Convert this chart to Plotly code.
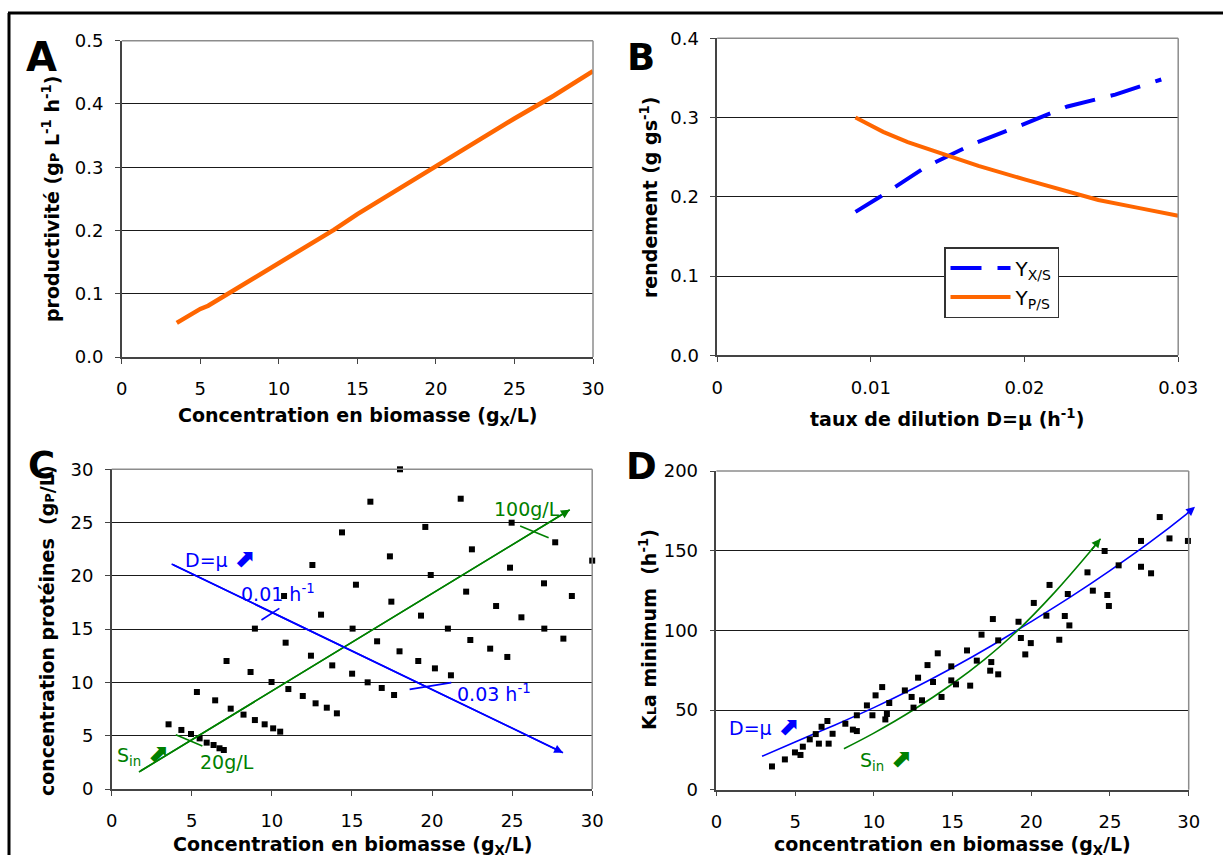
import plotly.graph_objects as go

W, H = 1223, 855

# ---------------- DATA ----------------
# Panel A : productivity vs biomass concentration
A_x = [3.5, 4.2, 5.0, 5.5, 6.1, 6.9, 8, 10, 12, 13.5, 15, 17.5, 20, 22.5, 25, 27.5, 30]
A_y = [0.054, 0.064, 0.076, 0.081, 0.090, 0.102, 0.118, 0.150, 0.180, 0.201, 0.226,
       0.264, 0.301, 0.339, 0.377, 0.413, 0.452]

# Panel B : yields vs dilution rate
B_yxs_x = [0.009, 0.0106, 0.0136, 0.0168, 0.020, 0.0228, 0.0259, 0.0289]
B_yxs_y = [0.181, 0.200, 0.238, 0.268, 0.292, 0.314, 0.329, 0.348]
B_yps_x = [0.009, 0.0108, 0.0124, 0.0149, 0.017, 0.020, 0.0223, 0.0248, 0.0274, 0.030]
B_yps_y = [0.300, 0.282, 0.269, 0.252, 0.239, 0.222, 0.209, 0.196, 0.186, 0.176]

# Panel C : protein concentration vs biomass (scatter)
C_x = [3.55, 4.35, 4.95, 5.49, 5.93, 6.36, 6.73, 7.0,
       5.32, 6.46, 7.43, 8.23, 8.94, 9.55, 10.08, 10.52,
       7.17, 8.67, 9.98, 11.03, 11.93, 12.73, 13.43, 14.06,
       8.94, 10.86, 12.44, 13.77, 15.01, 15.98, 16.86, 17.63,
       10.76, 13.07, 15.04, 16.57, 17.97, 19.14, 20.18, 21.18,
       12.53, 15.25, 17.46, 19.31, 20.99, 22.39, 23.63, 24.70,
       14.38, 17.37, 19.92, 22.13, 24.0, 25.58, 27.01, 28.2,
       16.15, 19.58, 22.49, 24.87, 26.99, 28.73,
       18.0, 21.79, 24.97, 27.69, 30.0]
C_y = [6.07, 5.54, 5.16, 4.75, 4.35, 4.13, 3.82, 3.66,
       9.10, 8.32, 7.54, 6.98, 6.47, 6.07, 5.69, 5.38,
       12.01, 10.98, 10.04, 9.38, 8.73, 8.04, 7.63, 7.10,
       15.05, 13.73, 12.51, 11.60, 10.82, 10.01, 9.48, 8.82,
       18.11, 16.36, 15.05, 13.86, 12.92, 12.01, 11.32, 10.67,
       21.02, 19.17, 17.58, 16.27, 15.05, 13.98, 13.17, 12.39,
       24.08, 21.83, 20.08, 18.52, 17.17, 16.11, 15.05, 14.11,
       26.96, 24.59, 22.49, 20.77, 19.30, 18.11,
       30.0, 27.24, 24.99, 23.15, 21.43]
C_sin_x = [1.7, 28.6]
C_sin_y = [1.6, 26.2]
C_D_x = [3.74, 28.18]
C_D_y = [21.11, 3.41]
C_tick20_x = [4.0, 5.66]
C_tick20_y = [5.10, 4.03]
C_tick100_x = [25.5, 27.28]
C_tick100_y = [24.68, 23.58]
C_tick001_x = [9.35, 10.47]
C_tick001_y = [15.86, 16.95]
C_tick003_x = [18.6, 21.2]
C_tick003_y = [9.35, 9.98]

# Panel D : KLa minimum vs biomass (scatter)
D_x = [3.53, 4.35, 4.99, 5.34, 5.49, 5.93, 6.31, 6.51, 6.68, 7.05, 7.13, 7.38,
       8.19, 8.67, 8.92, 8.92, 9.56, 9.91, 10.11, 10.53, 10.73, 10.83, 10.98,
       11.97, 12.40, 12.52, 12.81, 13.06, 13.41, 13.76, 14.06, 14.30, 14.92,
       14.92, 15.22, 15.92, 16.12, 16.54, 16.84, 17.39, 17.46, 17.56, 17.90,
       17.90, 19.19, 19.34, 19.62, 19.97, 20.16, 20.96, 21.16, 21.78, 22.13,
       22.32, 22.42, 23.57, 23.91, 24.66, 24.83, 24.93, 25.55, 26.97, 26.97,
       27.61, 28.16, 28.78, 29.95]
D_y = [14.6, 19.0, 23.4, 21.8, 27.0, 31.6, 34.9, 28.9, 39.5, 43.1, 28.9, 35.1,
       41.4, 37.7, 46.7, 36.8, 52.9, 46.7, 59.2, 64.4, 44.1, 47.5, 54.4,
       62.3, 58.2, 51.5, 70.3, 56.1, 78.2, 67.6, 85.6, 58.2, 77.4,
       68.6, 66.1, 87.4, 65.3, 81.0, 97.3, 74.7, 80.1, 107.1, 93.7,
       72.4, 105.4, 95.2, 84.9, 92.0, 117.2, 109.2, 128.5, 94.1, 109.0,
       122.8, 103.1, 136.4, 124.9, 149.8, 122.2, 115.3, 140.8, 156.1, 139.9,
       135.8, 171.1, 157.7, 156.1]
D_mu_x = [2.9, 5, 7.5, 10, 12.5, 15, 17.5, 20, 22.5, 25, 27.5, 29.8, 30.4]
D_mu_y = [21, 30, 40.5, 51.5, 63.5, 76.5, 90.5, 105.5, 121, 137.5, 155, 172.5, 177.5]
D_sin_x = [8.1, 10, 12.5, 15, 17, 19.1, 21.5, 23.7, 24.4]
D_sin_y = [25.7, 35.5, 50, 66.5, 81.5, 99.6, 124, 149, 157.5]

# ---------------- STYLE ----------------
FONT = "DejaVu Sans, Liberation Sans, Arial"
ORANGE = "#FF6600"
BLUE = "#0000FF"
GREEN = "#008000"


def px(x):
    return x / W


def py(y):
    return 1 - y / H


# axis domains (pixel boxes)
dom = {
    "A": ((121.8, 593.0), (40.7, 357.0)),
    "B": ((717.2, 1178.2), (38.3, 355.3)),
    "C": ((111.7, 592.2), (469.3, 789.0)),
    "D": ((716.4, 1188.7), (471.0, 789.7)),
}

fig = go.Figure()

# Panel A
fig.add_trace(go.Scatter(x=A_x, y=A_y, mode="lines", line=dict(color=ORANGE, width=4.5),
                         xaxis="x", yaxis="y", showlegend=False))
# Panel B
fig.add_trace(go.Scatter(x=B_yxs_x, y=B_yxs_y, mode="lines", name="Y<sub>X/S</sub>",
                         line=dict(color=BLUE, width=4, dash="31px,16px"),
                         xaxis="x2", yaxis="y2", showlegend=True))
fig.add_trace(go.Scatter(x=B_yps_x, y=B_yps_y, mode="lines", name="Y<sub>P/S</sub>",
                         line=dict(color=ORANGE, width=4),
                         xaxis="x2", yaxis="y2", showlegend=True))
# Panel C
for xs, ys, col in [(C_sin_x, C_sin_y, GREEN), (C_D_x, C_D_y, BLUE),
                    (C_tick20_x, C_tick20_y, GREEN), (C_tick100_x, C_tick100_y, GREEN),
                    (C_tick001_x, C_tick001_y, BLUE), (C_tick003_x, C_tick003_y, BLUE)]:
    fig.add_trace(go.Scatter(x=xs, y=ys, mode="lines", line=dict(color=col, width=1.6),
                             xaxis="x3", yaxis="y3", showlegend=False))
fig.add_trace(go.Scatter(x=C_x, y=C_y, mode="markers",
                         marker=dict(symbol="square", size=6, color="black"),
                         xaxis="x3", yaxis="y3", showlegend=False, cliponaxis=False))
# Panel D
fig.add_trace(go.Scatter(x=D_mu_x, y=D_mu_y, mode="lines", line=dict(color=BLUE, width=1.6, shape="spline"),
                         xaxis="x4", yaxis="y4", showlegend=False))
fig.add_trace(go.Scatter(x=D_sin_x, y=D_sin_y, mode="lines", line=dict(color=GREEN, width=1.6, shape="spline"),
                         xaxis="x4", yaxis="y4", showlegend=False))
fig.add_trace(go.Scatter(x=D_x, y=D_y, mode="markers",
                         marker=dict(symbol="square", size=6, color="black"),
                         xaxis="x4", yaxis="y4", showlegend=False, cliponaxis=False))

AX = dict(showline=True, linecolor="#444", linewidth=1.5, ticks="outside", ticklen=5,
          tickcolor="#444", tickwidth=1.2, showgrid=False, zeroline=False, automargin=False,
          tickfont=dict(family=FONT, size=18, color="black"), ticklabelstandoff=10)
AY = dict(showline=True, linecolor="#444", linewidth=1.5, ticks="outside", ticklen=5,
          tickcolor="#444", tickwidth=1.2, showgrid=True, gridcolor="#1a1a1a", gridwidth=1,
          zeroline=False, automargin=False, tickfont=dict(family=FONT, size=18, color="black"),
          ticklabelstandoff=8)

layout = dict(width=W, height=H, autosize=False,
              margin=dict(l=0, r=0, t=0, b=0, pad=0, autoexpand=False),
              paper_bgcolor="white", plot_bgcolor="white",
              font=dict(family=FONT, color="black"))

names = ["A", "B", "C", "D"]
for i, k in enumerate(names):
    (x0, x1), (yt, yb) = dom[k]
    sx = "" if i == 0 else str(i + 1)
    layout["xaxis" + sx] = dict(AX, domain=[px(x0), px(x1)], anchor="y" + sx)
    layout["yaxis" + sx] = dict(AY, domain=[py(yb), py(yt)], anchor="x" + sx)

layout["xaxis"].update(range=[0, 30], dtick=5)
layout["yaxis"].update(range=[0, 0.5], dtick=0.1, tickformat=".1f")
layout["xaxis2"].update(range=[0, 0.03], tickvals=[0, 0.01, 0.02, 0.03],
                        ticktext=["0", "0.01", "0.02", "0.03"])
layout["yaxis2"].update(range=[0, 0.4], dtick=0.1, tickformat=".1f")
layout["xaxis3"].update(range=[0, 30], dtick=5)
layout["yaxis3"].update(range=[0, 30], dtick=5)
layout["xaxis4"].update(range=[0, 30], dtick=5)
layout["yaxis4"].update(range=[0, 200], dtick=50)

layout["legend"] = dict(x=px(944), y=py(247), xanchor="left", yanchor="top",
                        bgcolor="white", bordercolor="#333", borderwidth=1.5,
                        font=dict(family=FONT, size=20, color="black"),
                        itemwidth=60, tracegroupgap=0)

fig.update_layout(**layout)

# plot-area top and right edges (grey)
shapes = []
for i, k in enumerate(names):
    sx = "" if i == 0 else str(i + 1)
    xr, yr = "x" + sx + " domain", "y" + sx + " domain"
    shapes.append(dict(type="line", xref=xr, yref=yr, x0=0, x1=1, y0=1, y1=1,
                       line=dict(color="#8c8c8c", width=1.5), layer="above"))
    shapes.append(dict(type="line", xref=xr, yref=yr, x0=1, x1=1, y0=0, y1=1,
                       line=dict(color="#8c8c8c", width=1.5), layer="above"))
# outer frame (top and left)
shapes.append(dict(type="line", xref="paper", yref="paper", x0=px(8), x1=1.0,
                   y0=py(13), y1=py(13), line=dict(color="black", width=3)))
shapes.append(dict(type="line", xref="paper", yref="paper", x0=px(9), x1=px(9),
                   y0=py(13), y1=0, line=dict(color="black", width=3)))
fig.update_layout(shapes=shapes)

ann = []


def txt(text, x, y, size=19, bold=False, angle=0, color="black", xref="paper", yref="paper",
        xanchor="center", yanchor="middle"):
    ann.append(dict(text=("<b>%s</b>" % text) if bold else text, x=x, y=y, xref=xref, yref=yref,
                    showarrow=False, textangle=angle, xanchor=xanchor, yanchor=yanchor,
                    font=dict(family=FONT, size=size, color=color)))


# panel letters
txt("A", px(41), py(57), size=40, bold=True)
txt("B", px(641), py(58), size=37, bold=True)
txt("C", px(42), py(465), size=37, bold=True)
txt("D", px(641), py(466), size=37, bold=True)

# axis titles
txt("Concentration en biomasse (g<sub>X</sub>/L)", px(357), py(416), bold=True)
txt("taux de dilution D=μ (h<sup>-1</sup>)", px(947), py(418), bold=True)
txt("Concentration en biomasse (g<sub>X</sub>/L)", px(352), py(845), bold=True)
txt("concentration en biomasse (g<sub>X</sub>/L)", px(952), py(845), bold=True)
txt("productivité (g<span style='font-size:13px'>P</span> L<sup>-1</sup> h<sup>-1</sup>)",
    px(51), py(199), bold=True, angle=-90)
txt("rendement (g gs<sup>-1</sup>)", px(649), py(198), bold=True, angle=-90)
txt("concentration protéines  (g<span style='font-size:13px'>P</span>/L)",
    px(47), py(631), bold=True, angle=-90)
txt("K<span style='font-size:13px'>L</span>a minimum  (h<sup>-1</sup>)",
    px(648), py(630), bold=True, angle=-90)

ARW = "<b><span style='font-size:25px'>⬈</span></b>"
# panel C texts
txt("D=μ " + ARW, 6.75, 21.6, size=19, color=BLUE, xref="x3", yref="y3")
txt("0.01 h<sup>-1</sup>", 10.4, 18.4, size=19, color=BLUE, xref="x3", yref="y3")
txt("0.03 h<sup>-1</sup>", 23.85, 9.0, size=19, color=BLUE, xref="x3", yref="y3")
txt("100g/L", 25.9, 26.3, size=19, color=GREEN, xref="x3", yref="y3")
txt("20g/L", 7.2, 2.5, size=19, color=GREEN, xref="x3", yref="y3")
txt("S<sub>in</sub> " + ARW, 1.9, 3.3, size=19, color=GREEN, xref="x3", yref="y3")
# panel D texts
txt("D=μ " + ARW, 3.0, 39.5, size=19, color=BLUE, xref="x4", yref="y4")
txt("S<sub>in</sub> " + ARW, 10.75, 19.5, size=19, color=GREEN, xref="x4", yref="y4")

# arrow heads (from the last segment of each arrow line)
for xs, ys, col, ax_, ay_ in [(C_sin_x, C_sin_y, GREEN, "x3", "y3"),
                              (C_D_x, C_D_y, BLUE, "x3", "y3"),
                              (D_mu_x, D_mu_y, BLUE, "x4", "y4"),
                              (D_sin_x, D_sin_y, GREEN, "x4", "y4")]:
    ann.append(dict(x=xs[-1], y=ys[-1], ax=xs[-2], ay=ys[-2], xref=ax_, yref=ay_,
                    axref=ax_, ayref=ay_, showarrow=True, arrowhead=2, arrowsize=1.1,
                    arrowwidth=1.6, arrowcolor=col, text=""))

fig.update_layout(annotations=ann)

fig.write_html("out.html", config={"displayModeBar": False},
               post_script="document.body.style.margin='0';document.body.style.padding='0';"
                           "document.body.style.overflow='hidden';")
